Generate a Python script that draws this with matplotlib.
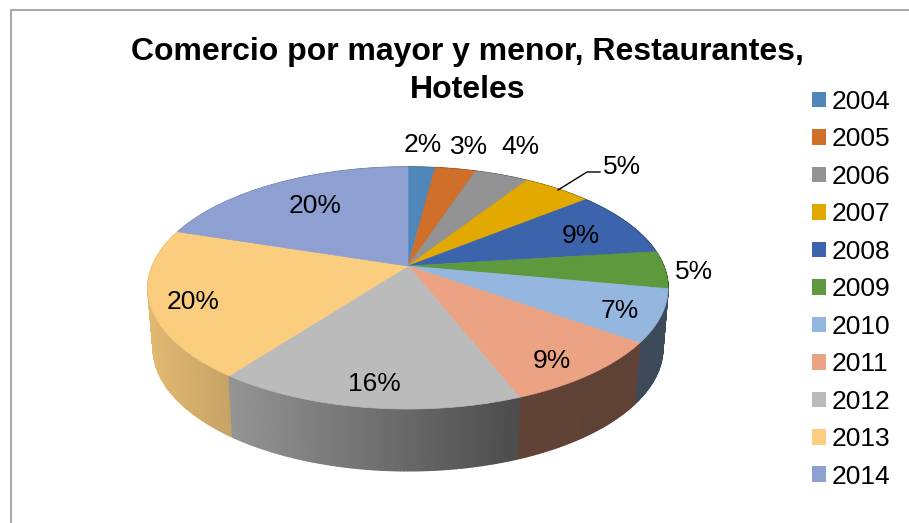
import matplotlib
matplotlib.use("Agg")
import matplotlib.pyplot as plt
from matplotlib.patches import Patch
import numpy as np

plt.rcParams["font.family"] = ["Liberation Sans", "DejaVu Sans"]

years = ["2004", "2005", "2006", "2007", "2008", "2009", "2010", "2011", "2012", "2013", "2014"]
shares = [2.0, 3.0, 4.0, 5.1, 8.9, 5.0, 7.0, 9.1, 16.1, 19.8, 20.0]
colors = ["#4F87BB", "#D06F2A", "#939393", "#E2A900", "#3C64AC", "#5F993D",
          "#95B7DF", "#EBA384", "#BBBBBB", "#FACD7F", "#8E9FD2"]
label_pos = [(423, 145), (469, 147), (520, 147), (622, 167), (581, 236), (694, 272),
             (620, 311), (552, 361), (374, 384), (193, 302), (315, 206)]

# perspective of the pie, all in pixels of the picture
CX, CY = 408, 266
A, B, K = 255.7, 117, 0.1818
DROP = 60
SHRINK = 0.98


def rim(theta):
    """Point of the top rim for an angle measured clockwise from 12 o'clock"""
    den = 1 + K * np.cos(theta)
    return A * np.sin(theta) / den, B * np.cos(theta) / den


def side_shade(x):
    return np.interp(x, [150, 232, 516, 700], [0.9, 0.79, 0.41, 0.40])


def draw_sides(ax, edges):
    quads = []
    for i in range(len(shares)):
        thetas = np.linspace(edges[i], edges[i + 1], max(2, int(shares[i] * 6)))
        base = np.array(matplotlib.colors.to_rgb(colors[i]))
        for t0, t1 in zip(thetas[:-1], thetas[1:]):
            x0, y0 = rim(t0)
            x1, y1 = rim(t1)
            xs = [CX + x0, CX + x1, CX + x1 * SHRINK, CX + x0 * SHRINK]
            ys = [CY - y0, CY - y1, CY - y1 + DROP + (-y1 - 22) * 0.015, CY - y0 + DROP + (-y0 - 22) * 0.015]
            quads.append((y0 + y1, xs, ys, base * side_shade((xs[0] + xs[1]) / 2)))
    quads.sort(key=lambda q: -q[0])
    for _, xs, ys, c in quads:
        ax.fill(xs, ys, color=c, linewidth=1.0, zorder=2)


def draw_top(ax, edges):
    for i in range(len(shares)):
        thetas = np.linspace(edges[i], edges[i + 1], int(shares[i] * 6) + 2)
        x, y = rim(thetas)
        ax.fill(np.r_[CX, CX + x], np.r_[CY, CY - y], color=colors[i], linewidth=0.5, zorder=3)


def plot():
    fig = plt.figure(figsize=(9.09, 5.23), dpi=100)
    ax = fig.add_axes([0, 0, 1, 1])
    ax.set_xlim(0, 909)
    ax.set_ylim(523, 0)
    ax.axis("off")

    # chart frame
    ax.plot([11, 11, 909], [523, 10, 10], color="#A6A6A6", linewidth=1.4, zorder=1)

    edges = np.r_[0, np.cumsum(shares)] / sum(shares) * 2 * np.pi
    draw_sides(ax, edges)
    draw_top(ax, edges)

    for share, (x, y) in zip(shares, label_pos):
        ax.text(x, y, f"{share:.0f}%", fontsize=19, ha="center", va="center", color="black", zorder=5)

    # leader line of the 2007 label
    ax.plot([558, 587, 600], [190, 172, 172], color="black", linewidth=1, zorder=4)

    ax.text(467.5, 71, "Comercio por mayor y menor, Restaurantes,\nHoteles", fontsize=23, fontweight="bold",
            ha="center", va="center", linespacing=1.36)

    handles = [Patch(facecolor=c, edgecolor="none", label=y) for c, y in zip(colors, years)]
    ax.legend(handles=handles, loc="upper left", bbox_to_anchor=(812 / 909, 1 - 90 / 523), frameon=False,
              fontsize=19, borderpad=0, borderaxespad=0, handlelength=0.53, handleheight=0.53,
              handletextpad=0.2, labelspacing=0.51)

    fig.savefig("out.png", dpi=100)


if __name__ == "__main__":
    plot()
